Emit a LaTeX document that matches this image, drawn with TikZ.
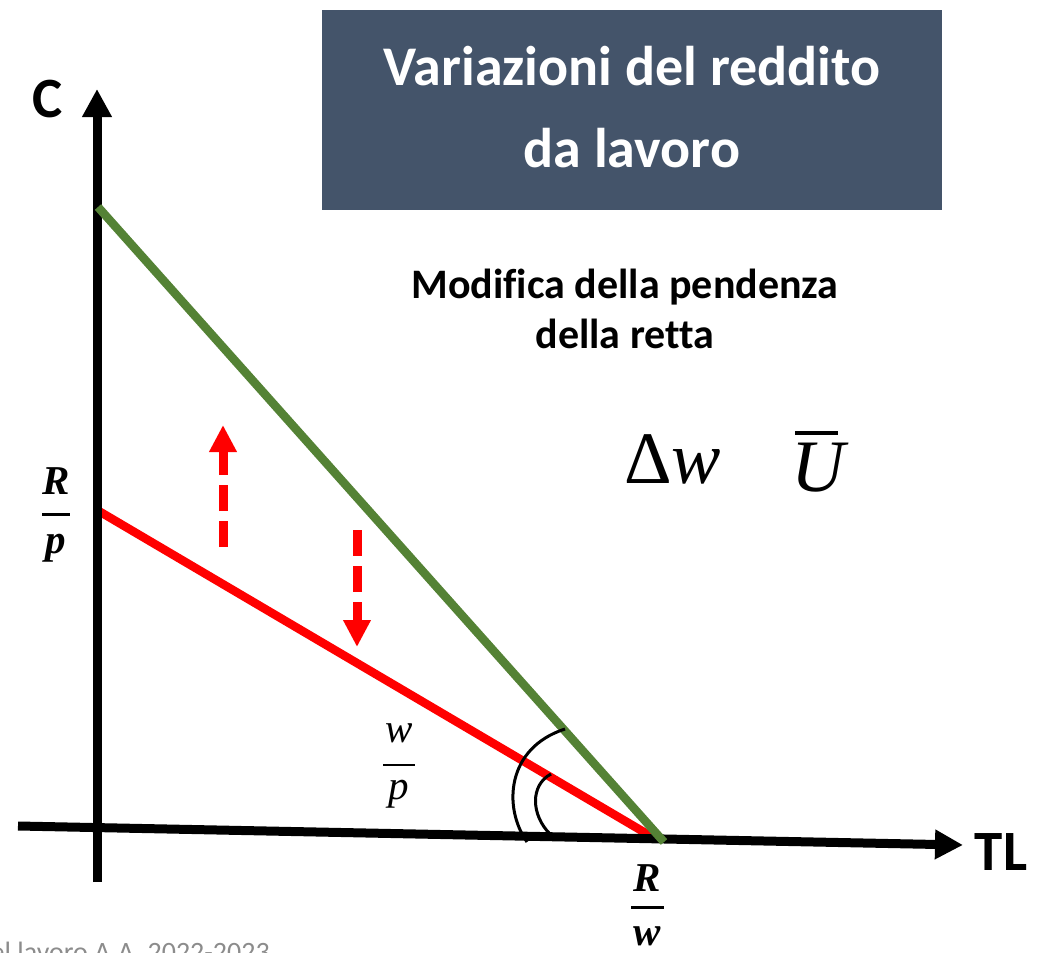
\documentclass[tikz,border=0pt]{standalone}
\usepackage{fontspec}
\setmainfont{Carlito}[Ligatures=NoCommon]
\newfontfamily\mserif{Liberation Serif}
\usetikzlibrary{arrows.meta}
\definecolor{titlebg}{HTML}{44546A}
\definecolor{lgreen}{HTML}{548235}
\definecolor{footgray}{HTML}{8C8C8C}
\begin{document}
\begin{tikzpicture}[x=1pt,y=-1pt,inner sep=0pt,
  axisline/.style={line width=9pt,-{Triangle[length=28pt,width=28pt]}},
  budget/.style={line width=8.5pt},
  shiftarrow/.style={red,line width=9pt,dash pattern=on 26pt off 10pt,-{Triangle[length=27pt,width=26pt]}},
  anglearc/.style={line width=3pt},
  fracbar/.style={line width=3pt},
  titlefont/.style={text=white,font=\bfseries\fontsize{56}{60}\selectfont},
  subfont/.style={font=\bfseries\fontsize{42}{50}\selectfont},
  axlabel/.style={font=\bfseries\fontsize{57}{60}\selectfont},
  bmath/.style={font=\mserif\bfseries\itshape\fontsize{41}{44}\selectfont},
  imath/.style={font=\mserif\itshape\fontsize{41}{44}\selectfont},
  bigmath/.style={font=\mserif\fontsize{74}{80}\selectfont}]
\useasboundingbox (0,0) rectangle (1045,953);
\clip (0,0) rectangle (1045,953);

% title box
\node[fill=titlebg,minimum width=620pt,minimum height=200pt] (titlebox) at (632,110) {};
\node[titlefont,anchor=base] (title1) at (632,85) {Variazioni del reddito};
\node[titlefont,anchor=base] (title2) at (632,167) {da lavoro};

% subtitle
\node[subfont,anchor=base] (sub1) at (625,298) {Modifica della pendenza};
\node[subfont,anchor=base] (sub2) at (625,348) {della retta};

% Delta w and U bar
\node[bigmath,anchor=base west] (dw) at (624,483) {Δ\textit{w}};
\node[bigmath,anchor=base west] (ubar) at (791,491) {\textit{U}};
\coordinate (ub1) at (795,433);
\coordinate (ub2) at (838,433);
\draw[line width=3.5pt] (ub1) -- (ub2);

% coordinates
\coordinate (yb) at (97,882);
\coordinate (yt) at (97,89);
\coordinate (xl) at (18,826);
\coordinate (xr) at (963,845);
\coordinate (g0) at (98,207);
\coordinate (g1) at (664,842);
\coordinate (r0) at (97,510);
\coordinate (r1) at (654,838);

% budget lines and axes
\draw[budget,red] (r0) -- (r1);
\draw[axisline] (yb) -- (yt);
\draw[axisline] (xl) -- (xr);
\draw[budget,lgreen] (g0) -- (g1);

% angle arcs
\coordinate (a1s) at (527,842);
\coordinate (a1e) at (565,729);
\draw[anglearc] (a1s) .. controls (503,808) and (506,748) .. (a1e);
\coordinate (a2s) at (550,834);
\coordinate (a2e) at (551,774);
\draw[anglearc] (a2s) .. controls (531,815) and (530,785) .. (a2e);

% shift arrows
\coordinate (up0) at (223,547);
\coordinate (up1) at (223,425);
\draw[shiftarrow] (up0) -- (up1);
\coordinate (dn0) at (357,530);
\coordinate (dn1) at (357,647);
\draw[shiftarrow] (dn0) -- (dn1);

% axis labels
\node[axlabel,anchor=base] (clab) at (48,117) {C};
\node[axlabel,anchor=base] (tllab) at (1001,870) {TL};

% R/p
\node[bmath,anchor=base] (rpn) at (56,494) {R};
\coordinate (rpb1) at (42,514);
\coordinate (rpb2) at (70,514);
\draw[fracbar] (rpb1) -- (rpb2);
\node[bmath,anchor=base] (rpd) at (56,553) {p};

% w/p
\node[imath,anchor=base] (wpn) at (399,742) {w};
\coordinate (wpb1) at (383,765);
\coordinate (wpb2) at (415,765);
\draw[line width=2.5pt] (wpb1) -- (wpb2);
\node[imath,anchor=base] (wpd) at (399,799) {p};

% R/w
\node[bmath,anchor=base] (rwn) at (647,891) {R};
\coordinate (rwb1) at (631,907);
\coordinate (rwb2) at (664,907);
\draw[fracbar] (rwb1) -- (rwb2);
\node[bmath,anchor=base] (rwd) at (647,945) {w};

% footer (cut by the page edge)
\node[anchor=base east,text=footgray,font=\fontsize{28}{30}\selectfont] (foot) at (270,961) {del lavoro A.A. 2022-2023};
\end{tikzpicture}
\end{document}
